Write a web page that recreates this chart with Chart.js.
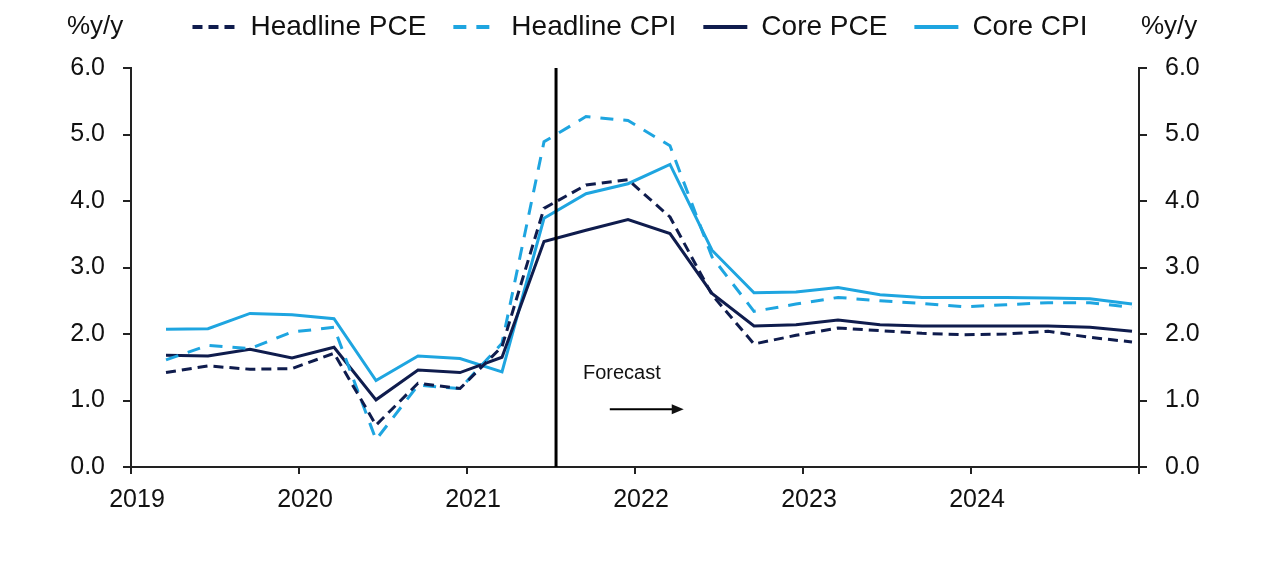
<!DOCTYPE html>
<html>
<head>
<meta charset="utf-8">
<script src="https://cdn.jsdelivr.net/npm/chart.js@4.4.1/dist/chart.umd.min.js"></script>
<style>
  html, body { margin: 0; padding: 0; background: #fff; }
  #wrap { width: 1280px; height: 565px; }
</style>
</head>
<body>
<div id="wrap"><canvas id="inflChart" width="1280" height="565"></canvas></div>
<script>
/* global Chart */
const quarters = [
  "2019Q1", "2019Q2", "2019Q3", "2019Q4",
  "2020Q1", "2020Q2", "2020Q3", "2020Q4",
  "2021Q1", "2021Q2", "2021Q3", "2021Q4",
  "2022Q1", "2022Q2", "2022Q3", "2022Q4",
  "2023Q1", "2023Q2", "2023Q3", "2023Q4",
  "2024Q1", "2024Q2", "2024Q3", "2024Q4",
];
const headlinePCE = [1.42, 1.52, 1.47, 1.48, 1.71, 0.63, 1.26, 1.18, 1.81, 3.89, 4.24, 4.32,
  3.76, 2.59, 1.85, 1.98, 2.09, 2.05, 2.01, 1.99, 2.00, 2.04, 1.95, 1.88];
const headlineCPI = [1.61, 1.83, 1.78, 2.03, 2.10, 0.41, 1.23, 1.18, 1.86, 4.89, 5.27, 5.21,
  4.83, 3.16, 2.34, 2.45, 2.55, 2.50, 2.46, 2.41, 2.44, 2.47, 2.47, 2.40];
const corePCE = [1.68, 1.67, 1.77, 1.64, 1.80, 1.01, 1.46, 1.42, 1.65, 3.39, 3.56, 3.72,
  3.51, 2.61, 2.12, 2.14, 2.21, 2.14, 2.12, 2.12, 2.12, 2.12, 2.10, 2.04];
const coreCPI = [2.07, 2.08, 2.31, 2.29, 2.23, 1.30, 1.67, 1.63, 1.43, 3.74, 4.11, 4.26,
  4.55, 3.26, 2.62, 2.63, 2.70, 2.59, 2.55, 2.55, 2.55, 2.54, 2.53, 2.45];
const yearTicks = [2019, 2020, 2021, 2022, 2023, 2024];
const forecastStart = 2021.53;

const NAVY = "#0f1c4d";
const SKY = "#1ea5e0";
const FONT = "'Liberation Sans', Arial, sans-serif";

// quarterly points sit in the middle of the quarter's last month
function qx(q) {
  const y = Number(q.slice(0, 4));
  const n = Number(q.slice(5));
  return y + (3 * n - 0.5) / 12;
}
function series(vals) {
  return quarters.map((q, i) => ({ x: qx(q), y: vals[i] }));
}

const extras = {
  id: "extras",
  beforeLayout(chart) {
    // legend row is taller than its text: keep plot top where the original has it
    const lg = chart.legend;
    if (lg && !lg._tallFit) {
      const fit = lg.fit;
      lg.fit = function () {
        fit.call(this);
        this.height = 82;
      };
      lg._tallFit = true;
    }
  },
  afterDatasetsDraw(chart) {
    const { ctx, chartArea, scales } = chart;
    const x = scales.x;
    const y = scales.y;
    ctx.save();
    // forecast divider
    const fx = x.getPixelForValue(forecastStart);
    ctx.strokeStyle = "#000";
    ctx.lineWidth = 3;
    ctx.beginPath();
    ctx.moveTo(fx, chartArea.top);
    ctx.lineTo(fx, chartArea.bottom);
    ctx.stroke();

    ctx.fillStyle = "#111";
    ctx.font = "20px " + FONT;
    ctx.textAlign = "left";
    ctx.textBaseline = "middle";
    ctx.fillText("Forecast", x.getPixelForValue(2021.69), y.getPixelForValue(1.41));

    const ay = y.getPixelForValue(0.87);
    const ax0 = x.getPixelForValue(2021.85);
    const ax1 = x.getPixelForValue(2022.29);
    ctx.lineWidth = 2;
    ctx.beginPath();
    ctx.moveTo(ax0, ay);
    ctx.lineTo(ax1 - 10, ay);
    ctx.stroke();
    ctx.beginPath();
    ctx.moveTo(ax1, ay);
    ctx.lineTo(ax1 - 12, ay - 5);
    ctx.lineTo(ax1 - 12, ay + 5);
    ctx.closePath();
    ctx.fill();
    ctx.restore();
  },
  afterDraw(chart) {
    const { ctx } = chart;
    ctx.save();
    ctx.fillStyle = "#111";
    ctx.font = "26px " + FONT;
    ctx.textBaseline = "middle";
    ctx.textAlign = "left";
    ctx.fillText("%y/y", 67, 27);
    ctx.fillText("%y/y", 1141, 27);
    ctx.restore();
  },
};

const tickFont = { family: FONT, size: 25 };
const axisGrid = { drawOnChartArea: false, tickLength: 8, color: "#222", lineWidth: 2 };
const axisBorder = { display: true, color: "#222", width: 2 };

new Chart(document.getElementById("inflChart"), {
  type: "line",
  data: {
    datasets: [
      { label: "Headline PCE", data: series(headlinePCE), borderColor: NAVY, backgroundColor: NAVY, borderDash: [10, 6] },
      { label: "Headline CPI", data: series(headlineCPI), borderColor: SKY, backgroundColor: SKY, borderDash: [13, 10] },
      { label: "Core PCE", data: series(corePCE), borderColor: NAVY, backgroundColor: NAVY },
      { label: "Core CPI", data: series(coreCPI), borderColor: SKY, backgroundColor: SKY },
    ],
  },
  options: {
    responsive: false,
    animation: false,
    devicePixelRatio: 1,
    layout: { padding: { top: -14, left: 0, right: 0, bottom: 0 } },
    elements: {
      point: { radius: 0, hoverRadius: 0 },
      line: { borderWidth: 3, tension: 0, fill: false },
    },
    plugins: {
      tooltip: { enabled: false },
      legend: {
        position: "top",
        labels: {
          usePointStyle: true,
          pointStyle: "line",
          pointStyleWidth: 44,
          padding: 27,
          color: "#111",
          font: { family: FONT, size: 28 },
          generateLabels(chart) {
            const items = Chart.defaults.plugins.legend.labels.generateLabels(chart);
            return items.map((it) => {
              const ds = chart.data.datasets[it.datasetIndex];
              return Object.assign(it, {
                lineWidth: 4,
                lineDash: ds.borderDash || [],
                strokeStyle: ds.borderColor,
              });
            });
          },
        },
      },
    },
    scales: {
      x: {
        type: "linear",
        min: 2019,
        max: 2025,
        afterFit(s) { s.height = 98; },
        afterBuildTicks(s) {
          s.ticks = yearTicks.concat([2025]).map((v) => ({ value: v }));
        },
        ticks: {
          color: "#111",
          font: tickFont,
          padding: 11,
          labelOffset: 6,
          maxRotation: 0,
          callback: (v) => (yearTicks.includes(v) ? String(v) : ""),
        },
        grid: { drawOnChartArea: false, tickLength: 7, color: "#222", lineWidth: 2 },
        border: axisBorder,
      },
      y: {
        position: "left",
        min: 0,
        max: 6,
        afterFit(s) { s.width = 131; },
        ticks: { stepSize: 1, color: "#111", font: tickFont, padding: 18, callback: (v) => v.toFixed(1) },
        grid: axisGrid,
        border: axisBorder,
      },
      y2: {
        position: "right",
        min: 0,
        max: 6,
        afterFit(s) { s.width = 141; },
        ticks: { stepSize: 1, color: "#111", font: tickFont, padding: 18, callback: (v) => v.toFixed(1) },
        grid: axisGrid,
        border: axisBorder,
      },
    },
  },
  plugins: [extras],
});
</script>
</body>
</html>
